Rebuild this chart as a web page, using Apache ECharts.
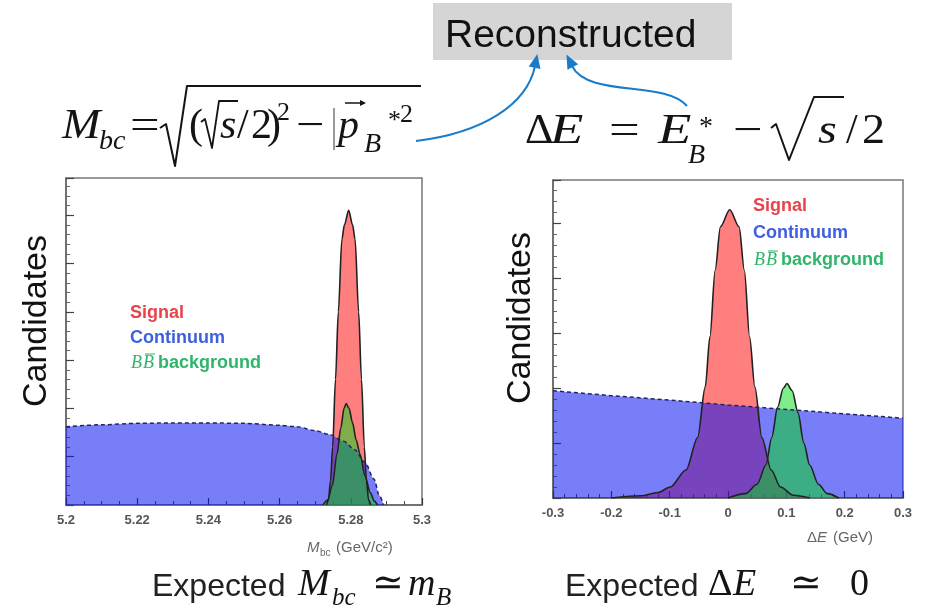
<!DOCTYPE html>
<html><head><meta charset="utf-8">
<script src="https://cdn.jsdelivr.net/npm/echarts@6/dist/echarts.min.js"></script>
<style>html,body{margin:0;padding:0;background:#fff}#c{width:938px;height:612px}</style>
</head><body><div id="c"></div>
<script>
// ---------------- data ----------------
// Left panel: Mbc (GeV/c^2)
const mbcRange = [5.2, 5.3];
const mbcStep = 0.02;
const mbcYMax = 6.77;
const mbcSignalX = [5.2732, 5.2737, 5.2743, 5.2749, 5.2757, 5.2765, 5.2775, 5.2782, 5.2794, 5.2805, 5.2812, 5.2822, 5.2830, 5.2838, 5.2844, 5.2850, 5.2856];
const mbcSignalY = [0, 0.1, 0.5, 1.2, 2.6, 4.0, 5.5, 5.8, 6.1, 5.8, 5.5, 4.0, 2.6, 1.2, 0.5, 0.1, 0];
const mbcContX = [5.200, 5.210, 5.220, 5.230, 5.240, 5.250, 5.260, 5.265, 5.270, 5.274, 5.278, 5.281, 5.284, 5.2865, 5.288, 5.2892];
const mbcContY = [1.62, 1.66, 1.69, 1.70, 1.70, 1.69, 1.65, 1.62, 1.54, 1.46, 1.32, 1.15, 0.88, 0.54, 0.20, 0];
const mbcBBX = [5.2722, 5.2735, 5.2748, 5.2761, 5.2772, 5.2781, 5.2787, 5.2795, 5.2805, 5.2815, 5.2826, 5.2840, 5.2855, 5.2866, 5.2875];
const mbcBBY = [0, 0.1, 0.4, 1.05, 1.6, 2.0, 2.1, 2.0, 1.7, 1.35, 1.05, 0.6, 0.25, 0.08, 0];

// Right panel: Delta E (GeV)
const deRange = [-0.3, 0.3];
const deStep = 0.1;
const deYMax = 5.78;
const deSignalX = [-0.20, -0.15, -0.12, -0.099, -0.072, -0.052, -0.039, -0.031, -0.022, -0.013, 0.003, 0.019, 0.028, 0.037, 0.046, 0.058, 0.074, 0.090, 0.112, 0.14];
const deSignalY = [0, 0.04, 0.1, 0.2, 0.51, 1.1, 2.02, 2.93, 4.14, 4.93, 5.24, 4.93, 4.14, 2.93, 2.02, 1.1, 0.51, 0.2, 0.05, 0];
const deContX = [-0.3, -0.2, -0.1, 0, 0.1, 0.2, 0.3];
const deContY = [1.95, 1.86, 1.78, 1.69, 1.61, 1.53, 1.45];
const deBBX = [0.00, 0.03, 0.05, 0.065, 0.075, 0.085, 0.095, 0.101, 0.11, 0.12, 0.13, 0.14, 0.155, 0.17, 0.19];
const deBBY = [0, 0.08, 0.25, 0.6, 1.1, 1.65, 2.0, 2.08, 1.95, 1.55, 1.0, 0.6, 0.25, 0.08, 0];

const legendLabels = ['Signal', 'Continuum', 'background'];
const yTitle = 'Candidates';
const boxTitle = 'Reconstructed';

// ---------------- helpers ----------------
const zip = (xs, ys) => xs.map((x, i) => [x, ys[i]]);
const SERIF = '"Liberation Serif", "DejaVu Serif", serif';
const SANS = '"Liberation Sans", Arial, sans-serif';
const INK = '#141414';

function T(x, baseline, t, size, o) {
  o = o || {};
  return {
    type: 'text', x: x, y: baseline - 0.305 * size, silent: true, z: 100,
    scaleX: o.sx || 1,
    style: {
      text: t, fontSize: size, fontFamily: o.family || SERIF,
      fontStyle: o.italic ? 'italic' : 'normal', fontWeight: o.bold ? 'bold' : 'normal',
      fill: o.color || INK, align: o.align || 'left', verticalAlign: 'middle'
    }
  };
}
function PL(points, color, w) {
  return { type: 'polyline', silent: true, z: 100, shape: { points: points },
    style: { stroke: color || INK, lineWidth: w || 2, fill: null, lineJoin: 'round' } };
}
function head(tip, dir, len, hw, color) {
  const bx = tip[0] - dir[0] * len, by = tip[1] - dir[1] * len;
  const px = -dir[1], py = dir[0];
  return { type: 'polygon', silent: true, z: 100,
    shape: { points: [tip, [bx + px * hw, by + py * hw], [bx - px * hw, by - py * hw]] },
    style: { fill: color } };
}
function norm(v) { const l = Math.hypot(v[0], v[1]); return [v[0] / l, v[1] / l]; }

const BLUE_ARROW = '#1a7cc9';
const graphics = [];

// Reconstructed box
graphics.push({ type: 'rect', silent: true, z: 90, shape: { x: 433, y: 3, width: 299, height: 57 }, style: { fill: '#d5d5d5' } });
graphics.push(T(445, 48, boxTitle, 39, { family: SANS, color: '#111' }));

// Candidates labels
graphics.push({ type: 'text', silent: true, z: 100, x: 37, y: 321, rotation: Math.PI / 2,
  style: { text: yTitle, fontSize: 34, fontFamily: SANS, fill: '#111', align: 'center', verticalAlign: 'middle' } });
graphics.push({ type: 'text', silent: true, z: 100, x: 521, y: 318, rotation: Math.PI / 2,
  style: { text: yTitle, fontSize: 34, fontFamily: SANS, fill: '#111', align: 'center', verticalAlign: 'middle' } });

// Left formula: M_bc = sqrt((sqrt(s)/2)^2 - |p*_B|^2)
const b1 = 140;
graphics.push(T(62, b1, 'M', 42, { italic: true, sx: 1.1 }));
graphics.push(T(99, b1 + 10, 'bc', 28, { italic: true }));
graphics.push(T(130, b1, '=', 42, { sx: 1.25 }));
graphics.push(PL([[160, 128], [166, 124], [175, 166], [187, 86], [421, 86]], INK, 2));
graphics.push(T(189, b1, '(', 42));
graphics.push(PL([[201, 122], [205, 119], [212, 148], [219, 101], [238, 101]], INK, 1.8));
graphics.push(T(220, b1, 's', 42, { italic: true }));
graphics.push(T(237, b1, '/', 42));
graphics.push(T(251, b1, '2', 42));
graphics.push(T(267, b1, ')', 42));
graphics.push(T(277, b1 - 19, '2', 26));
graphics.push(T(296, b1, '\u2212', 42, { sx: 1.2 }));
graphics.push(PL([[334, 108], [334, 150]], '#999', 2));
graphics.push(T(338, b1, 'p', 42, { italic: true }));
graphics.push(PL([[345, 103], [362, 103]], INK, 1.5));
graphics.push(head([366, 103], [1, 0], 6, 3, INK));
graphics.push(T(364, b1 + 13, 'B', 28, { italic: true }));
graphics.push(T(388, b1 - 11, '*', 26));
graphics.push(T(400, b1 - 17, '2', 26));

// Right formula: dE = E*_B - sqrt(s)/2
const b2 = 145;
graphics.push(T(525, b2, '\u0394', 42, { sx: 1.05 }));
graphics.push(T(550, b2, 'E', 42, { italic: true, sx: 1.3 }));
graphics.push(T(609, b2, '=', 42, { sx: 1.3 }));
graphics.push(T(658, b2, 'E', 42, { italic: true, sx: 1.3 }));
graphics.push(T(699, b2 - 9, '*', 28));
graphics.push(T(688, b2 + 19, 'B', 28, { italic: true }));
graphics.push(T(733, b2, '\u2212', 42, { sx: 1.25 }));
graphics.push(PL([[771, 128], [776, 124], [789, 160], [814, 97], [844, 97]], INK, 2));
graphics.push(T(818, b2, 's', 42, { italic: true, sx: 1.15 }));
graphics.push(T(846, b2, '/', 42));
graphics.push(T(862, b2, '2', 42, { sx: 1.1 }));

// Arrows
graphics.push({ type: 'bezierCurve', silent: true, z: 100,
  shape: { x1: 416, y1: 141, cpx1: 482, cpy1: 133, cpx2: 527, cpy2: 105, x2: 535, y2: 66 },
  style: { stroke: BLUE_ARROW, lineWidth: 2, fill: null } });
graphics.push(head([537.4, 54], norm([8, -39]), 14, 6, BLUE_ARROW));
graphics.push({ type: 'bezierCurve', silent: true, z: 100,
  shape: { x1: 687, y1: 106, cpx1: 665, cpy1: 80, cpx2: 588, cpy2: 98, x2: 572, y2: 66 },
  style: { stroke: BLUE_ARROW, lineWidth: 2, fill: null } });
graphics.push(head([566.5, 54.5], norm([-16, -32]), 14, 6, BLUE_ARROW));

// Legends
const RED_T = '#e8434b', BLUE_T = '#3f5fe0', GREEN_T = '#2fb56a';
function legend(x, y0, dy) {
  graphics.push(T(x, y0 + 5, legendLabels[0], 18, { family: SANS, bold: true, color: RED_T }));
  graphics.push(T(x, y0 + dy + 5, legendLabels[1], 18, { family: SANS, bold: true, color: BLUE_T }));
  const y3 = y0 + 2 * dy + 5;
  graphics.push(T(x + 1, y3, 'B', 18, { italic: true, color: GREEN_T }));
  graphics.push(T(x + 13, y3, 'B', 18, { italic: true, color: GREEN_T }));
  graphics.push(PL([[x + 15, y3 - 15], [x + 25, y3 - 15]], GREEN_T, 1));
  graphics.push(T(x + 28, y3, legendLabels[2], 18, { family: SANS, bold: true, color: GREEN_T }));
}
legend(130, 314, 25);
legend(753, 207, 27);

// Axis titles
const AX = '#666';
graphics.push(T(307, 552, 'M', 15, { italic: true, family: SANS, color: AX }));
graphics.push(T(320, 556, 'bc', 10, { family: SANS, color: AX }));
graphics.push(T(336, 552, '(GeV/c\u00B2)', 15, { family: SANS, color: AX }));
graphics.push(T(807, 542, '\u0394', 15, { family: SANS, color: AX }));
graphics.push(T(817, 542, 'E', 15, { italic: true, family: SANS, color: AX }));
graphics.push(T(833, 542, '(GeV)', 15, { family: SANS, color: AX }));

// Bottom captions
graphics.push(T(152, 597, 'Expected', 32, { family: SANS, color: '#222' }));
graphics.push(T(298, 597, 'M', 38, { italic: true }));
graphics.push(T(332, 606, 'bc', 25, { italic: true }));
graphics.push(T(372, 597, '\u2243', 38));
graphics.push(T(408, 597, 'm', 38, { italic: true }));
graphics.push(T(436, 606, 'B', 25, { italic: true }));

graphics.push(T(565, 597, 'Expected', 32, { family: SANS, color: '#222' }));
graphics.push(T(708, 597, '\u0394', 38));
graphics.push(T(733, 597, 'E', 38, { italic: true }));
graphics.push(T(790, 597, '\u2243', 38));
graphics.push(T(850, 597, '0', 38));

// ---------------- chart ----------------
const fmt = v => String(parseFloat(v.toFixed(2)));
function xAxis(gi, range, step, minorSplit) {
  return {
    gridIndex: gi, type: 'value', min: range[0], max: range[1], interval: step,
    axisLine: { show: true, onZero: false, lineStyle: { color: '#666', width: 1.5 } },
    axisTick: { show: true, inside: true, length: 7, lineStyle: { color: '#333', width: 1.2 } },
    minorTick: { show: true, splitNumber: minorSplit, length: 4, lineStyle: { color: '#444' } },
    splitLine: { show: false }, minorSplitLine: { show: false },
    axisLabel: { formatter: fmt, fontSize: 13, fontWeight: 'bold', color: '#555', fontFamily: SANS, margin: 9 }
  };
}
function yAxis(gi, max) {
  return {
    gridIndex: gi, type: 'value', min: 0, max: max, interval: 1,
    axisLine: { show: true, onZero: false, lineStyle: { color: '#666', width: 1.5 } },
    axisTick: { show: true, inside: true, length: 8, lineStyle: { color: '#444', width: 1.2 } },
    minorTick: { show: true, splitNumber: 5, length: 4, lineStyle: { color: '#666' } },
    splitLine: { show: false }, minorSplitLine: { show: false },
    axisLabel: { show: false }
  };
}
function area(name, xi, xs, ys, fill, line, dashed, smooth) {
  return {
    name: name, type: 'line', xAxisIndex: xi, yAxisIndex: xi, data: zip(xs, ys),
    showSymbol: false, symbol: 'none', smooth: smooth, smoothMonotone: 'x', silent: true,
    lineStyle: { color: line, width: dashed ? 1.5 : 1.6, type: dashed ? [4, 3] : 'solid' },
    areaStyle: { color: fill, opacity: 1 }
  };
}
const RED_F = 'rgba(255,0,0,0.5)', BLUE_F = 'rgba(10,20,240,0.55)', GREEN_F = 'rgba(0,220,20,0.5)';

const chart = echarts.init(document.getElementById('c'), null, { renderer: 'canvas' });
chart.setOption({
  animation: false,
  backgroundColor: '#fff',
  grid: [
    { left: 66, top: 178, width: 356, height: 327, show: true, borderColor: '#777', borderWidth: 1.5, containLabel: false },
    { left: 553, top: 180, width: 350, height: 318, show: true, borderColor: '#777', borderWidth: 1.5, containLabel: false }
  ],
  xAxis: [xAxis(0, mbcRange, mbcStep, 4), xAxis(1, deRange, deStep, 5)],
  yAxis: [yAxis(0, mbcYMax), yAxis(1, deYMax)],
  series: [
    area('Signal', 0, mbcSignalX, mbcSignalY, RED_F, '#222', false, 0.3),
    area('Continuum', 0, mbcContX, mbcContY, BLUE_F, '#22226a', true, 0.3),
    area('BB background', 0, mbcBBX, mbcBBY, GREEN_F, '#222', false, 0.3),
    area('Signal', 1, deSignalX, deSignalY, RED_F, '#222', false, 0.3),
    area('Continuum', 1, deContX, deContY, BLUE_F, '#22226a', true, 0),
    area('BB background', 1, deBBX, deBBY, GREEN_F, '#222', false, 0.3)
  ],
  graphic: graphics
});
</script></body></html>
